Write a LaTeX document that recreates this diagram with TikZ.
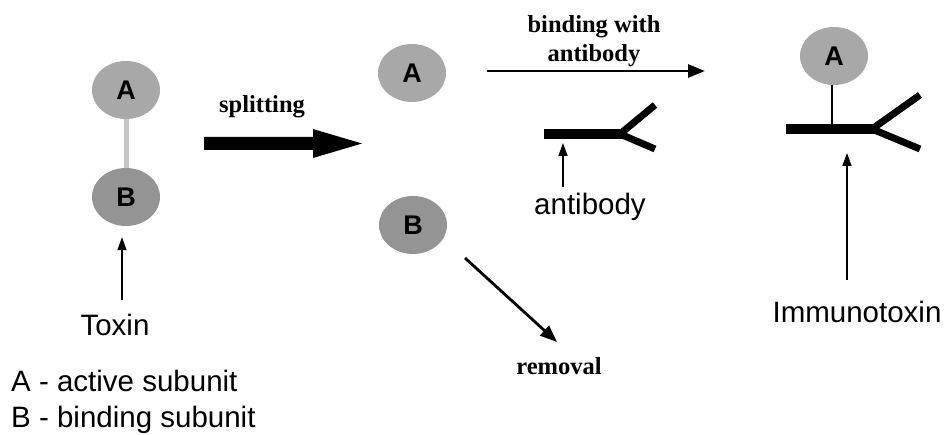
\documentclass[tikz,border=0pt]{standalone}
\usepackage{fontspec}
\setmainfont{Liberation Serif}
\setsansfont{Liberation Sans}
\usetikzlibrary{shapes.geometric,arrows.meta,calc}
\begin{document}
\begin{tikzpicture}[x=1pt,y=-1pt,
  sub/.style={ellipse, minimum width=68pt, minimum height=58pt, inner sep=0pt,
    font=\sffamily\bfseries\fontsize{27}{27}\selectfont},
  subA/.style={sub, fill=black!34},
  subB/.style={sub, fill=black!42},
  lbl/.style={anchor=base, inner sep=1pt, font=\sffamily\fontsize{29.5}{30}\selectfont},
  blbl/.style={anchor=base, inner sep=1pt, font=\rmfamily\bfseries\fontsize{24.5}{25}\selectfont},
  thinarr/.style={line width=1.5pt, -{Triangle[length=13pt,width=9pt]}},
  medarr/.style={line width=2.8pt, -{Triangle[length=17pt,width=13pt]}},
  stem/.style={line width=9.5pt},
  arm/.style={line width=7pt},
]
\useasboundingbox[fill=white] (0,0) rectangle (946,435);

% ---- Toxin ----
\node[subA] (tA) at (126,90) {A};
\node[subB] (tB) at (126,197) {B};
\draw[line width=5pt, black!22] (tA) -- (tB);
\node[lbl] (toxin) at (115,336) {Toxin};
\coordinate (toxTail) at (122,300);
\draw[thinarr, shorten >=11pt] (toxTail) -- (toxTail |- tB.south);

% ---- legend ----
\node[lbl, anchor=base west] (legA) at (10,392) {A - active subunit};
\node[lbl, anchor=base west] (legB) at (10,428) {B - binding subunit};

% ---- splitting ----
\node[blbl] (split) at (262,113) {splitting};
\coordinate (splitS) at (204,143.5);
\coordinate (splitE) at (362,143.5);
\fill (splitS) ++(0,-6.5) -- ++(109,0) -- ++(0,-8) -- (splitE) -- ++(-49,14.5) -- ++(0,-8) -- ++(-109,0) -- cycle;

% ---- split subunits ----
\node[subA] (mA) at (412,73) {A};
\node[subB] (mB) at (413,225) {B};

% ---- binding arrow ----
\node[blbl] (bind1) at (594,33) {binding with};
\node[blbl] (bind2) at (594,62) {antibody};
\coordinate (bindS) at (487,71);
\coordinate (bindE) at (705,71);
\draw[medarr] (bindS) -- (bindE);

% ---- antibody ----
\coordinate (ab1) at (544,134);
\coordinate (ab1j) at (623,134);
\draw[stem] (ab1) -- (ab1j);
\draw[arm] ($(ab1j)+(-3,0)$) -- (655,105);
\draw[arm] ($(ab1j)+(-3,0)$) -- (655,149);
\node[lbl] (antibody) at (590,215) {antibody};
\coordinate (abTail) at (563,187);
\coordinate (abTip) at (563,143);
\draw[thinarr] (abTail) -- (abTip);

% ---- removal ----
\node[blbl] (removal) at (559,375) {removal};
\coordinate (remS) at (465,258);
\coordinate (remE) at (557,342);
\draw[medarr] (remS) -- (remE);

% ---- immunotoxin ----
\node[subA] (iA) at (834,56) {A};
\coordinate (iJ) at (832,125);
\draw[line width=2pt] (iA.south -| iJ) -- (iJ);
\coordinate (ab2) at (786,129);
\coordinate (ab2j) at (875,129);
\draw[stem] (ab2) -- (ab2j);
\draw[arm] ($(ab2j)+(-3,0)$) -- (920,95);
\draw[arm] ($(ab2j)+(-3,0)$) -- (920,149);
\node[lbl] (immuno) at (857,323) {Immunotoxin};
\coordinate (imTail) at (847,280);
\coordinate (imTip) at (847,153);
\draw[thinarr] (imTail) -- (imTip);
\end{tikzpicture}
\end{document}
